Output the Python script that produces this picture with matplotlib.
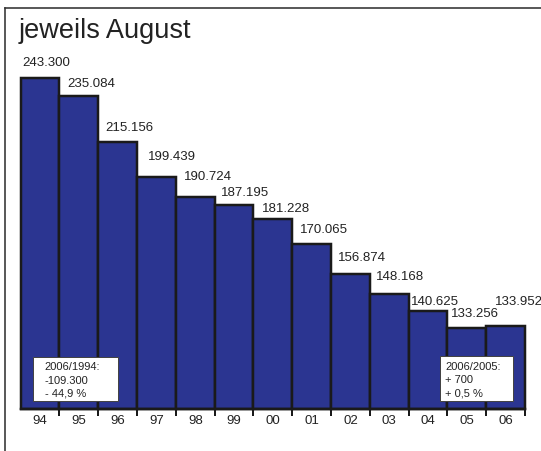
import matplotlib
matplotlib.use("Agg")
import matplotlib.pyplot as plt
from matplotlib.patches import Rectangle
from matplotlib.lines import Line2D

plt.rcParams['font.family'] = ['Liberation Sans', 'DejaVu Sans']

years = ["94", "95", "96", "97", "98", "99", "00", "01", "02", "03", "04", "05", "06"]
values = [243300, 235084, 215156, 199439, 190724, 187195, 181228, 170065, 156874, 148168, 140625, 133256, 133952]
value_labels = ["243.300", "235.084", "215.156", "199.439", "190.724", "187.195", "181.228",
                "170.065", "156.874", "148.168", "140.625", "133.256", "133.952"]
title = "jeweils August"
box_left_text = "2006/1994:\n-109.300\n- 44,9 %"
box_right_text = "2006/2005:\n+ 700\n+ 0,5 %"

# layout / style (pixels)
label_dx = [2, 7.7, 6.7, 10.7, 7.7, 6.6, 8.3, 7.7, 6.7, 6, 2, 4, 9]
label_dy = [14.7, 12.7, 14, 20, 20, 11.7, 10, 14, 16, 17, 9, 14, 24]

W, H = 541, 451
fig = plt.figure(figsize=(W / 100, H / 100), dpi=100)
fig.patch.set_facecolor("white")

def fx(px):
    return px / W

def fy(py):
    return 1 - py / H

ax_left, ax_right, ax_bottom, ax_top = 20.7, 525, 408.5, 39.6
ax = fig.add_axes([fx(ax_left), fy(ax_bottom), fx(ax_right - ax_left), (ax_bottom - ax_top) / H])
ymin, ymax = 97700, 260000
ax.set_xlim(-0.5, len(years) - 0.5)
ax.set_ylim(ymin, ymax)

px2pt = 0.72
x = list(range(len(years)))
ax.bar(x, [v - ymin for v in values], bottom=ymin, width=1.0, color="#2b3591",
       edgecolor="#1a1a1a", linewidth=2.5 * px2pt, clip_on=False, zorder=2)

for i, (v, lab) in enumerate(zip(values, value_labels)):
    ax.annotate(lab, xy=(i - 0.5, v), xytext=(label_dx[i] * px2pt, label_dy[i] * px2pt),
                textcoords="offset points", ha="left", va="center", fontsize=9.5,
                color="#222222", annotation_clip=False)

for s in ["top", "right", "left"]:
    ax.spines[s].set_visible(False)
ax.spines["bottom"].set_linewidth(2.5 * px2pt)
ax.spines["bottom"].set_color("#1a1a1a")
ax.set_yticks([])
ax.set_xticks(x)
ax.set_xticklabels(years, fontsize=9.5, color="#222222")
ax.tick_params(axis="x", which="major", length=0, pad=5)
ax.set_xticks([i + 0.5 for i in x], minor=True)
ax.tick_params(axis="x", which="minor", length=5 * px2pt * 1.4, width=2 * px2pt, color="#1a1a1a")
ax.patch.set_alpha(0)

# title
fig.text(fx(19), fy(38.5), title, fontsize=19.5, ha="left", va="baseline", color="#222222")

# frame lines (top and left)
fig.add_artist(Line2D([fx(5), fx(541)], [fy(8.3), fy(8.3)], color="#333333", linewidth=1.6 * px2pt))
fig.add_artist(Line2D([fx(5), fx(5)], [fy(8.3), fy(451)], color="#333333", linewidth=1.6 * px2pt))

# annotation boxes
def add_box(x0, y0, x1, y1, text, pad):
    r = Rectangle((fx(x0), fy(y1)), fx(x1 - x0), (y1 - y0) / H, transform=fig.transFigure,
                  facecolor="white", edgecolor="#444444", linewidth=1 * px2pt, zorder=5)
    fig.add_artist(r)
    fig.text(fx(x0 + pad), fy((y0 + y1) / 2 + 2), text, fontsize=8, ha="left", va="center",
             linespacing=1.4, color="#222222", zorder=6)

add_box(33.3, 356.7, 117.7, 400.5, box_left_text, 11.5)
add_box(440, 356, 513, 400.7, box_right_text, 5)

fig.savefig("out.png", dpi=100)
